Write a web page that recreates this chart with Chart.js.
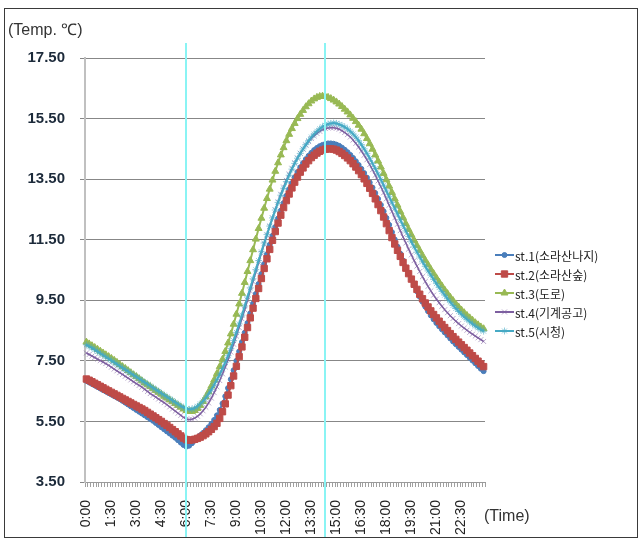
<!DOCTYPE html>
<html>
<head>
<meta charset="utf-8">
<script src="https://cdn.jsdelivr.net/npm/chart.js@4.4.1/dist/chart.umd.min.js"></script>
<style>
  body { margin: 0; background: #fff; }
</style>
</head>
<body>
<canvas id="grafik" width="641" height="539"></canvas>
<script>
// nama seri & warna (urutan legenda)
const seriesNames = ['st.1(소라산나지)', 'st.2(소라산숲)', 'st.3(도로)', 'st.4(기계공고)', 'st.5(시청)'];
const seriesColors = ['#4a7ebb', '#be4b48', '#98b954', '#7d5fa0', '#46aac5'];

// suhu tiap 10 menit, 0:00 - 23:50
const st1 = [
  6.84, 6.79, 6.74, 6.69, 6.64, 6.59, 6.54, 6.49, 6.44, 6.39, 6.34, 6.29,
  6.24, 6.18, 6.12, 6.06, 6.00, 5.94, 5.88, 5.82, 5.76, 5.70, 5.64, 5.58,
  5.52, 5.45, 5.38, 5.31, 5.24, 5.17, 5.10, 5.03, 4.96, 4.88, 4.80, 4.72,
  4.67, 4.70, 4.78, 4.87, 4.96, 5.04, 5.12, 5.21, 5.31, 5.42, 5.55, 5.70,
  5.88, 6.09, 6.33, 6.60, 6.89, 7.19, 7.50, 7.81, 8.12, 8.43, 8.75, 9.07,
  9.39, 9.71, 10.04, 10.37, 10.70, 11.02, 11.33, 11.63, 11.92, 12.20, 12.46, 12.71,
  12.95, 13.17, 13.37, 13.56, 13.73, 13.89, 14.03, 14.16, 14.27, 14.37, 14.46, 14.53,
  14.59, 14.63, 14.66, 14.68, 14.68, 14.67, 14.64, 14.60, 14.54, 14.47, 14.39, 14.30,
  14.20, 14.09, 13.97, 13.84, 13.70, 13.55, 13.39, 13.22, 13.04, 12.85, 12.65, 12.44,
  12.22, 11.99, 11.75, 11.51, 11.27, 11.04, 10.81, 10.59, 10.38, 10.18, 9.99, 9.80,
  9.62, 9.45, 9.29, 9.14, 9.00, 8.87, 8.75, 8.64, 8.54, 8.44, 8.34, 8.24,
  8.14, 8.05, 7.96, 7.87, 7.78, 7.69, 7.60, 7.51, 7.42, 7.33, 7.24, 7.16
];
const st2 = [
  6.90, 6.86, 6.81, 6.76, 6.71, 6.66, 6.61, 6.56, 6.51, 6.46, 6.41, 6.36,
  6.31, 6.26, 6.21, 6.16, 6.11, 6.06, 6.01, 5.96, 5.91, 5.86, 5.80, 5.74,
  5.68, 5.62, 5.56, 5.50, 5.43, 5.37, 5.30, 5.23, 5.16, 5.09, 5.02, 4.95,
  4.90, 4.88, 4.89, 4.91, 4.94, 4.98, 5.03, 5.09, 5.16, 5.24, 5.33, 5.44,
  5.60, 5.82, 6.08, 6.37, 6.68, 7.00, 7.32, 7.64, 7.96, 8.28, 8.60, 8.92,
  9.24, 9.56, 9.89, 10.22, 10.55, 10.87, 11.18, 11.48, 11.77, 12.05, 12.31, 12.56,
  12.79, 13.01, 13.21, 13.40, 13.57, 13.73, 13.87, 14.00, 14.11, 14.21, 14.29, 14.36,
  14.42, 14.46, 14.49, 14.50, 14.50, 14.49, 14.46, 14.41, 14.35, 14.28, 14.20, 14.11,
  14.01, 13.90, 13.78, 13.65, 13.51, 13.36, 13.20, 13.03, 12.85, 12.66, 12.46, 12.25,
  12.03, 11.80, 11.57, 11.36, 11.15, 10.95, 10.75, 10.56, 10.38, 10.20, 10.03, 9.86,
  9.70, 9.55, 9.41, 9.28, 9.15, 9.03, 8.92, 8.81, 8.70, 8.60, 8.50, 8.40,
  8.30, 8.21, 8.12, 8.03, 7.94, 7.85, 7.76, 7.67, 7.58, 7.49, 7.40, 7.31
];
const st3 = [
  8.12, 8.06, 8.00, 7.94, 7.88, 7.82, 7.76, 7.70, 7.64, 7.58, 7.52, 7.45,
  7.38, 7.31, 7.25, 7.18, 7.11, 7.04, 6.98, 6.91, 6.84, 6.77, 6.71, 6.65,
  6.58, 6.52, 6.46, 6.40, 6.33, 6.27, 6.21, 6.15, 6.09, 6.03, 5.97, 5.91,
  5.86, 5.83, 5.83, 5.86, 5.93, 6.03, 6.16, 6.31, 6.48, 6.67, 6.87, 7.08,
  7.31, 7.55, 7.81, 8.09, 8.39, 8.71, 9.04, 9.38, 9.73, 10.09, 10.45, 10.81,
  11.17, 11.52, 11.87, 12.21, 12.54, 12.86, 13.17, 13.47, 13.76, 14.04, 14.30, 14.54,
  14.77, 14.98, 15.17, 15.34, 15.50, 15.64, 15.77, 15.89, 15.99, 16.08, 16.15, 16.20,
  16.23, 16.24, 16.23, 16.20, 16.16, 16.11, 16.05, 15.98, 15.90, 15.81, 15.72, 15.62,
  15.51, 15.40, 15.28, 15.15, 15.00, 14.84, 14.67, 14.49, 14.30, 14.10, 13.90, 13.69,
  13.48, 13.27, 13.06, 12.85, 12.64, 12.43, 12.23, 12.03, 11.84, 11.66, 11.48, 11.31,
  11.14, 10.98, 10.82, 10.67, 10.52, 10.38, 10.24, 10.10, 9.97, 9.84, 9.72, 9.60,
  9.49, 9.38, 9.28, 9.18, 9.09, 9.00, 8.92, 8.84, 8.76, 8.69, 8.62, 8.56
];
const st4 = [
  7.76, 7.71, 7.66, 7.61, 7.56, 7.51, 7.46, 7.41, 7.35, 7.29, 7.23, 7.17,
  7.11, 7.05, 6.99, 6.93, 6.87, 6.81, 6.75, 6.69, 6.63, 6.56, 6.49, 6.42,
  6.36, 6.30, 6.24, 6.18, 6.12, 6.05, 5.98, 5.91, 5.84, 5.77, 5.70, 5.63,
  5.58, 5.56, 5.57, 5.61, 5.67, 5.75, 5.85, 5.97, 6.11, 6.27, 6.45, 6.64,
  6.85, 7.07, 7.30, 7.54, 7.79, 8.05, 8.32, 8.60, 8.89, 9.19, 9.50, 9.81,
  10.12, 10.43, 10.74, 11.05, 11.35, 11.65, 11.94, 12.22, 12.49, 12.75, 13.00, 13.24,
  13.46, 13.67, 13.86, 14.04, 14.20, 14.35, 14.49, 14.62, 14.74, 14.84, 14.93, 15.01,
  15.08, 15.13, 15.17, 15.19, 15.20, 15.20, 15.18, 15.15, 15.10, 15.04, 14.97, 14.89,
  14.79, 14.68, 14.56, 14.43, 14.29, 14.14, 13.98, 13.81, 13.63, 13.44, 13.25, 13.05,
  12.85, 12.64, 12.43, 12.22, 12.01, 11.80, 11.59, 11.39, 11.19, 11.00, 10.81, 10.63,
  10.45, 10.28, 10.12, 9.96, 9.81, 9.67, 9.54, 9.42, 9.30, 9.19, 9.09, 8.99,
  8.90, 8.81, 8.73, 8.65, 8.58, 8.51, 8.44, 8.38, 8.32, 8.26, 8.20, 8.14
];
const st5 = [
  8.03, 7.98, 7.93, 7.87, 7.81, 7.75, 7.69, 7.63, 7.57, 7.51, 7.45, 7.39,
  7.33, 7.27, 7.21, 7.15, 7.09, 7.03, 6.97, 6.91, 6.85, 6.79, 6.73, 6.67,
  6.61, 6.55, 6.49, 6.43, 6.37, 6.31, 6.25, 6.19, 6.13, 6.07, 6.01, 5.96,
  5.92, 5.90, 5.91, 5.94, 6.00, 6.08, 6.17, 6.28, 6.41, 6.55, 6.71, 6.88,
  7.06, 7.25, 7.45, 7.67, 7.91, 8.17, 8.44, 8.72, 9.01, 9.31, 9.61, 9.91,
  10.21, 10.51, 10.81, 11.10, 11.39, 11.67, 11.95, 12.22, 12.48, 12.73, 12.97, 13.20,
  13.42, 13.63, 13.83, 14.02, 14.19, 14.35, 14.50, 14.64, 14.77, 14.89, 14.99, 15.08,
  15.16, 15.23, 15.28, 15.32, 15.34, 15.35, 15.34, 15.31, 15.27, 15.22, 15.16, 15.08,
  14.99, 14.89, 14.77, 14.64, 14.50, 14.35, 14.19, 14.02, 13.85, 13.67, 13.49, 13.30,
  13.11, 12.92, 12.73, 12.54, 12.35, 12.16, 11.97, 11.79, 11.61, 11.43, 11.26, 11.09,
  10.93, 10.77, 10.62, 10.47, 10.33, 10.19, 10.05, 9.92, 9.79, 9.67, 9.55, 9.44,
  9.33, 9.23, 9.13, 9.04, 8.95, 8.87, 8.79, 8.72, 8.65, 8.59, 8.53, 8.48
];

const tickLabels = ['0:00', '1:30', '3:00', '4:30', '6:00', '7:30', '9:00', '10:30',
  '12:00', '13:30', '15:00', '16:30', '18:00', '19:30', '21:00', '22:30'];
const markTimes = ['6:00', '14:20'];

// kategori waktu 10 menit
const times = [];
for (let i = 0; i < 144; i++) {
  times.push(Math.floor(i / 6) + ':' + String((i % 6) * 10).padStart(2, '0'));
}

const FONT = '"Liberation Sans", Arial, sans-serif';

const hiasan = {
  id: 'hiasan',
  afterDatasetsDraw(chart) {
    const ctx = chart.ctx;
    const sx = chart.scales.x;
    ctx.save();
    ctx.strokeStyle = '#8af4f4';
    ctx.lineWidth = 2;
    markTimes.forEach(t => {
      const px = Math.round(sx.getPixelForValue(times.indexOf(t)));
      ctx.beginPath();
      ctx.moveTo(px, 43);
      ctx.lineTo(px, 537);
      ctx.stroke();
    });
    ctx.restore();
  },
  afterDraw(chart) {
    const ctx = chart.ctx;
    ctx.save();
    // legenda
    chart.data.datasets.forEach((ds, i) => {
      const y = 255 + i * 19;
      ctx.strokeStyle = ds.borderColor;
      ctx.lineWidth = 2;
      ctx.beginPath();
      ctx.moveTo(495, y);
      ctx.lineTo(514, y);
      ctx.stroke();
      ctx.fillStyle = ds.pointBackgroundColor;
      ctx.strokeStyle = ds.pointBorderColor;
      ctx.lineWidth = 1;
      Chart.helpers.drawPoint(ctx, { pointStyle: ds.pointStyle, radius: ds.pointRadius, rotation: 0, borderWidth: 1 }, 504.5, y);
      ctx.fillStyle = '#222';
      ctx.font = '12px "Noto Sans CJK KR", sans-serif';
      ctx.textBaseline = 'middle';
      ctx.textAlign = 'left';
      ctx.fillText(seriesNames[i], 515, y + 1);
    });
    // judul sumbu
    ctx.fillStyle = '#333';
    ctx.font = '16px ' + FONT;
    ctx.fillText('(Temp. ℃)', 8, 31);
    ctx.fillText('(Time)', 484, 517);
    // bingkai luar
    ctx.strokeStyle = '#3a3a3a';
    ctx.lineWidth = 1;
    ctx.strokeRect(4.5, 8.5, 633, 529);
    ctx.restore();
  }
};

function buatDataset(i, data, style, radius, pointColor, lineWidth) {
  return {
    label: seriesNames[i],
    data: data,
    borderColor: seriesColors[i],
    backgroundColor: seriesColors[i],
    borderWidth: lineWidth,
    pointStyle: style,
    pointRadius: radius,
    pointBackgroundColor: pointColor,
    pointBorderColor: pointColor,
    pointBorderWidth: 1,
    tension: 0,
    order: 5 - i
  };
}

new Chart(document.getElementById('grafik').getContext('2d'), {
  type: 'line',
  data: {
    labels: times,
    datasets: [
      buatDataset(0, st1, 'circle', 2.5, seriesColors[0], 2),
      buatDataset(1, st2, 'rect', 4.5, seriesColors[1], 2),
      buatDataset(2, st3, 'triangle', 4, seriesColors[2], 2),
      buatDataset(3, st4, 'crossRot', 3.5, 'rgba(125,95,160,0.55)', 1.5),
      buatDataset(4, st5, 'star', 3.5, 'rgba(70,170,197,0.6)', 2)
    ]
  },
  options: {
    responsive: false,
    animation: false,
    layout: { padding: { top: 58, right: 156, left: 0, bottom: 0 } },
    plugins: {
      legend: { display: false },
      tooltip: { enabled: false }
    },
    scales: {
      x: {
        offset: true,
        grid: { drawOnChartArea: false, tickLength: 5, color: '#a0a0a0', offset: true },
        border: { color: '#9a9a9a', width: 1 },
        ticks: {
          autoSkip: false,
          minRotation: 90,
          maxRotation: 90,
          padding: 13,
          color: '#222',
          font: { family: FONT, size: 14 },
          callback: (val, index) => tickLabels.includes(times[index]) ? times[index] : ''
        },
        afterFit: (scale) => { scale.height = 57; }
      },
      y: {
        min: 3.5,
        max: 17.5,
        grid: { color: '#878787', tickLength: 5 },
        border: { color: '#c0c0c0', width: 2 },
        ticks: {
          stepSize: 2,
          padding: 15,
          color: '#1c2a3a',
          font: { family: FONT, size: 15, weight: 'bold' },
          callback: (v) => v.toFixed(2)
        },
        afterFit: (scale) => { scale.width = 85; }
      }
    }
  },
  plugins: [hiasan]
});
</script>
</body>
</html>
